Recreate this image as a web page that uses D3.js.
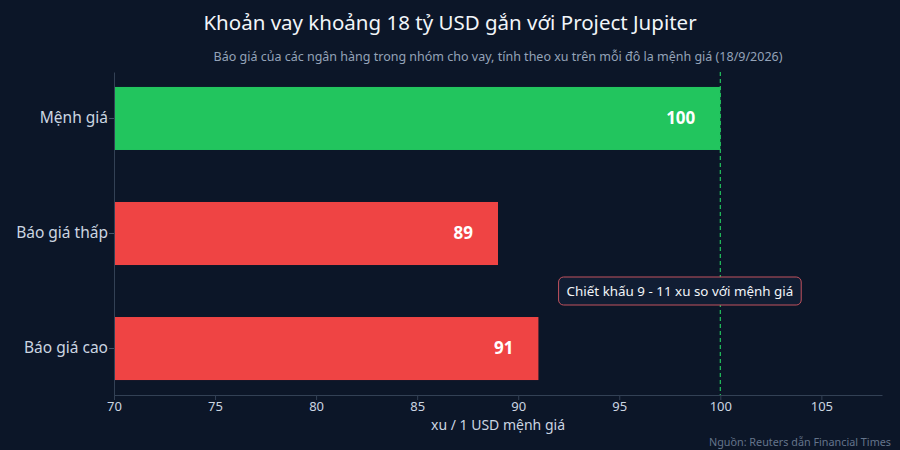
<!DOCTYPE html>
<html>
<head>
<meta charset="utf-8">
<script src="https://cdn.jsdelivr.net/npm/d3@7"></script>
<style>
  html, body { margin: 0; padding: 0; background: #0c1628; }
  svg { display: block; font-family: "Noto Sans", "Open Sans", sans-serif; }
</style>
</head>
<body>
<div id="chart"></div>
<script>
// Data
const categories = ["Mệnh giá", "Báo giá thấp", "Báo giá cao"];
const values = [100, 89, 91];
const barColors = ["#22c55e", "#ef4444", "#ef4444"];
const xTicks = [70, 75, 80, 85, 90, 95, 100, 105];
const parValue = 100;
const noteText = "Chiết khấu 9 - 11 xu so với mệnh giá";
const noteAt = 98;

const dimensions = {
    width: 900,
    height: 450,
    left: 114,
    right: 882,
    top: 72,
    bottom: 395
};

const svg = d3.select('#chart')
    .append('svg')
    .attr('width', dimensions.width)
    .attr('height', dimensions.height);

svg.append('rect')
    .attr('width', dimensions.width)
    .attr('height', dimensions.height)
    .attr('fill', '#0c1628');

// Scales
const xScale = d3.scaleLinear()
    .domain([70, 108])
    .range([dimensions.left, dimensions.right]);

const yScale = d3.scaleBand()
    .domain(categories)
    .range([dimensions.top, dimensions.bottom])
    .paddingInner(0.452)
    .paddingOuter(0.13);

// Titles
svg.append('text')
    .attr('x', 450).attr('y', 30)
    .attr('text-anchor', 'middle')
    .attr('fill', '#f1f5f9')
    .style('font-size', '20.5px')
    .text('Khoản vay khoảng 18 tỷ USD gắn với Project Jupiter');

svg.append('text')
    .attr('x', 498).attr('y', 61)
    .attr('text-anchor', 'middle')
    .attr('fill', '#94a3b8')
    .style('font-size', '12.5px')
    .text('Báo giá của các ngân hàng trong nhóm cho vay, tính theo xu trên mỗi đô la mệnh giá (18/9/2026)');

// Bars
svg.selectAll('rect.bar')
    .data(values)
    .join('rect')
    .attr('class', 'bar')
    .attr('x', xScale(70))
    .attr('y', (d, i) => yScale(categories[i]))
    .attr('width', d => xScale(d) - xScale(70))
    .attr('height', yScale.bandwidth())
    .attr('fill', (d, i) => barColors[i]);

// Value labels
svg.selectAll('text.value')
    .data(values)
    .join('text')
    .attr('class', 'value')
    .attr('x', d => xScale(d) - 25)
    .attr('y', (d, i) => yScale(categories[i]) + yScale.bandwidth() / 2)
    .attr('dy', '0.35em')
    .attr('text-anchor', 'end')
    .attr('fill', '#ffffff')
    .style('font-size', '17px')
    .style('font-weight', 'bold')
    .text(d => d);

// Axes (drop d3's default sans-serif so the page font applies)
const xAxisGroup = svg.append('g')
    .attr('transform', `translate(0, ${dimensions.bottom})`)
    .call(d3.axisBottom(xScale).tickValues(xTicks).tickSize(5).tickSizeOuter(0))
    .attr('font-family', null);
xAxisGroup.select('.domain').attr('stroke', '#334155');
xAxisGroup.selectAll('.tick line').attr('stroke', '#334155');
xAxisGroup.selectAll('.tick text')
    .attr('fill', '#cbd5e1')
    .attr('y', 7)
    .style('font-size', '13px');

const yAxisGroup = svg.append('g')
    .attr('transform', `translate(${dimensions.left}, 0)`)
    .call(d3.axisLeft(yScale).tickSize(5).tickSizeOuter(0))
    .attr('font-family', null);
yAxisGroup.select('.domain').attr('stroke', '#334155');
yAxisGroup.selectAll('.tick line').attr('stroke', '#475569');
yAxisGroup.selectAll('.tick text')
    .attr('fill', '#cbd5e1')
    .attr('x', -6)
    .style('font-size', '15.5px');

svg.append('text')
    .attr('x', (dimensions.left + dimensions.right) / 2)
    .attr('y', 430)
    .attr('text-anchor', 'middle')
    .attr('fill', '#cbd5e1')
    .style('font-size', '14px')
    .text('xu / 1 USD mệnh giá');

// Par reference line
svg.append('line')
    .attr('x1', xScale(parValue)).attr('x2', xScale(parValue))
    .attr('y1', dimensions.top).attr('y2', dimensions.bottom)
    .attr('stroke', '#22c55e')
    .attr('stroke-width', 1.2)
    .attr('stroke-dasharray', '4,3');

// Annotation
const noteY = (yScale(categories[1]) + yScale.bandwidth() + yScale(categories[2])) / 2;
const note = svg.append('g');
const noteLabel = note.append('text')
    .attr('x', xScale(noteAt))
    .attr('y', noteY)
    .attr('dy', '0.35em')
    .attr('text-anchor', 'middle')
    .attr('fill', '#f1f5f9')
    .style('font-size', '13.4px')
    .text(noteText);
const bb = noteLabel.node().getBBox();
note.insert('rect', 'text')
    .attr('x', bb.x - 8)
    .attr('y', noteY - 14)
    .attr('width', bb.width + 16)
    .attr('height', 28)
    .attr('rx', 5)
    .attr('fill', '#111d33')
    .attr('stroke', '#c2525e')
    .attr('stroke-width', 1);

// Source
svg.append('text')
    .attr('x', 891).attr('y', 446)
    .attr('text-anchor', 'end')
    .attr('fill', '#64748b')
    .style('font-size', '10.8px')
    .text('Nguồn: Reuters dẫn Financial Times');
</script>
</body>
</html>
